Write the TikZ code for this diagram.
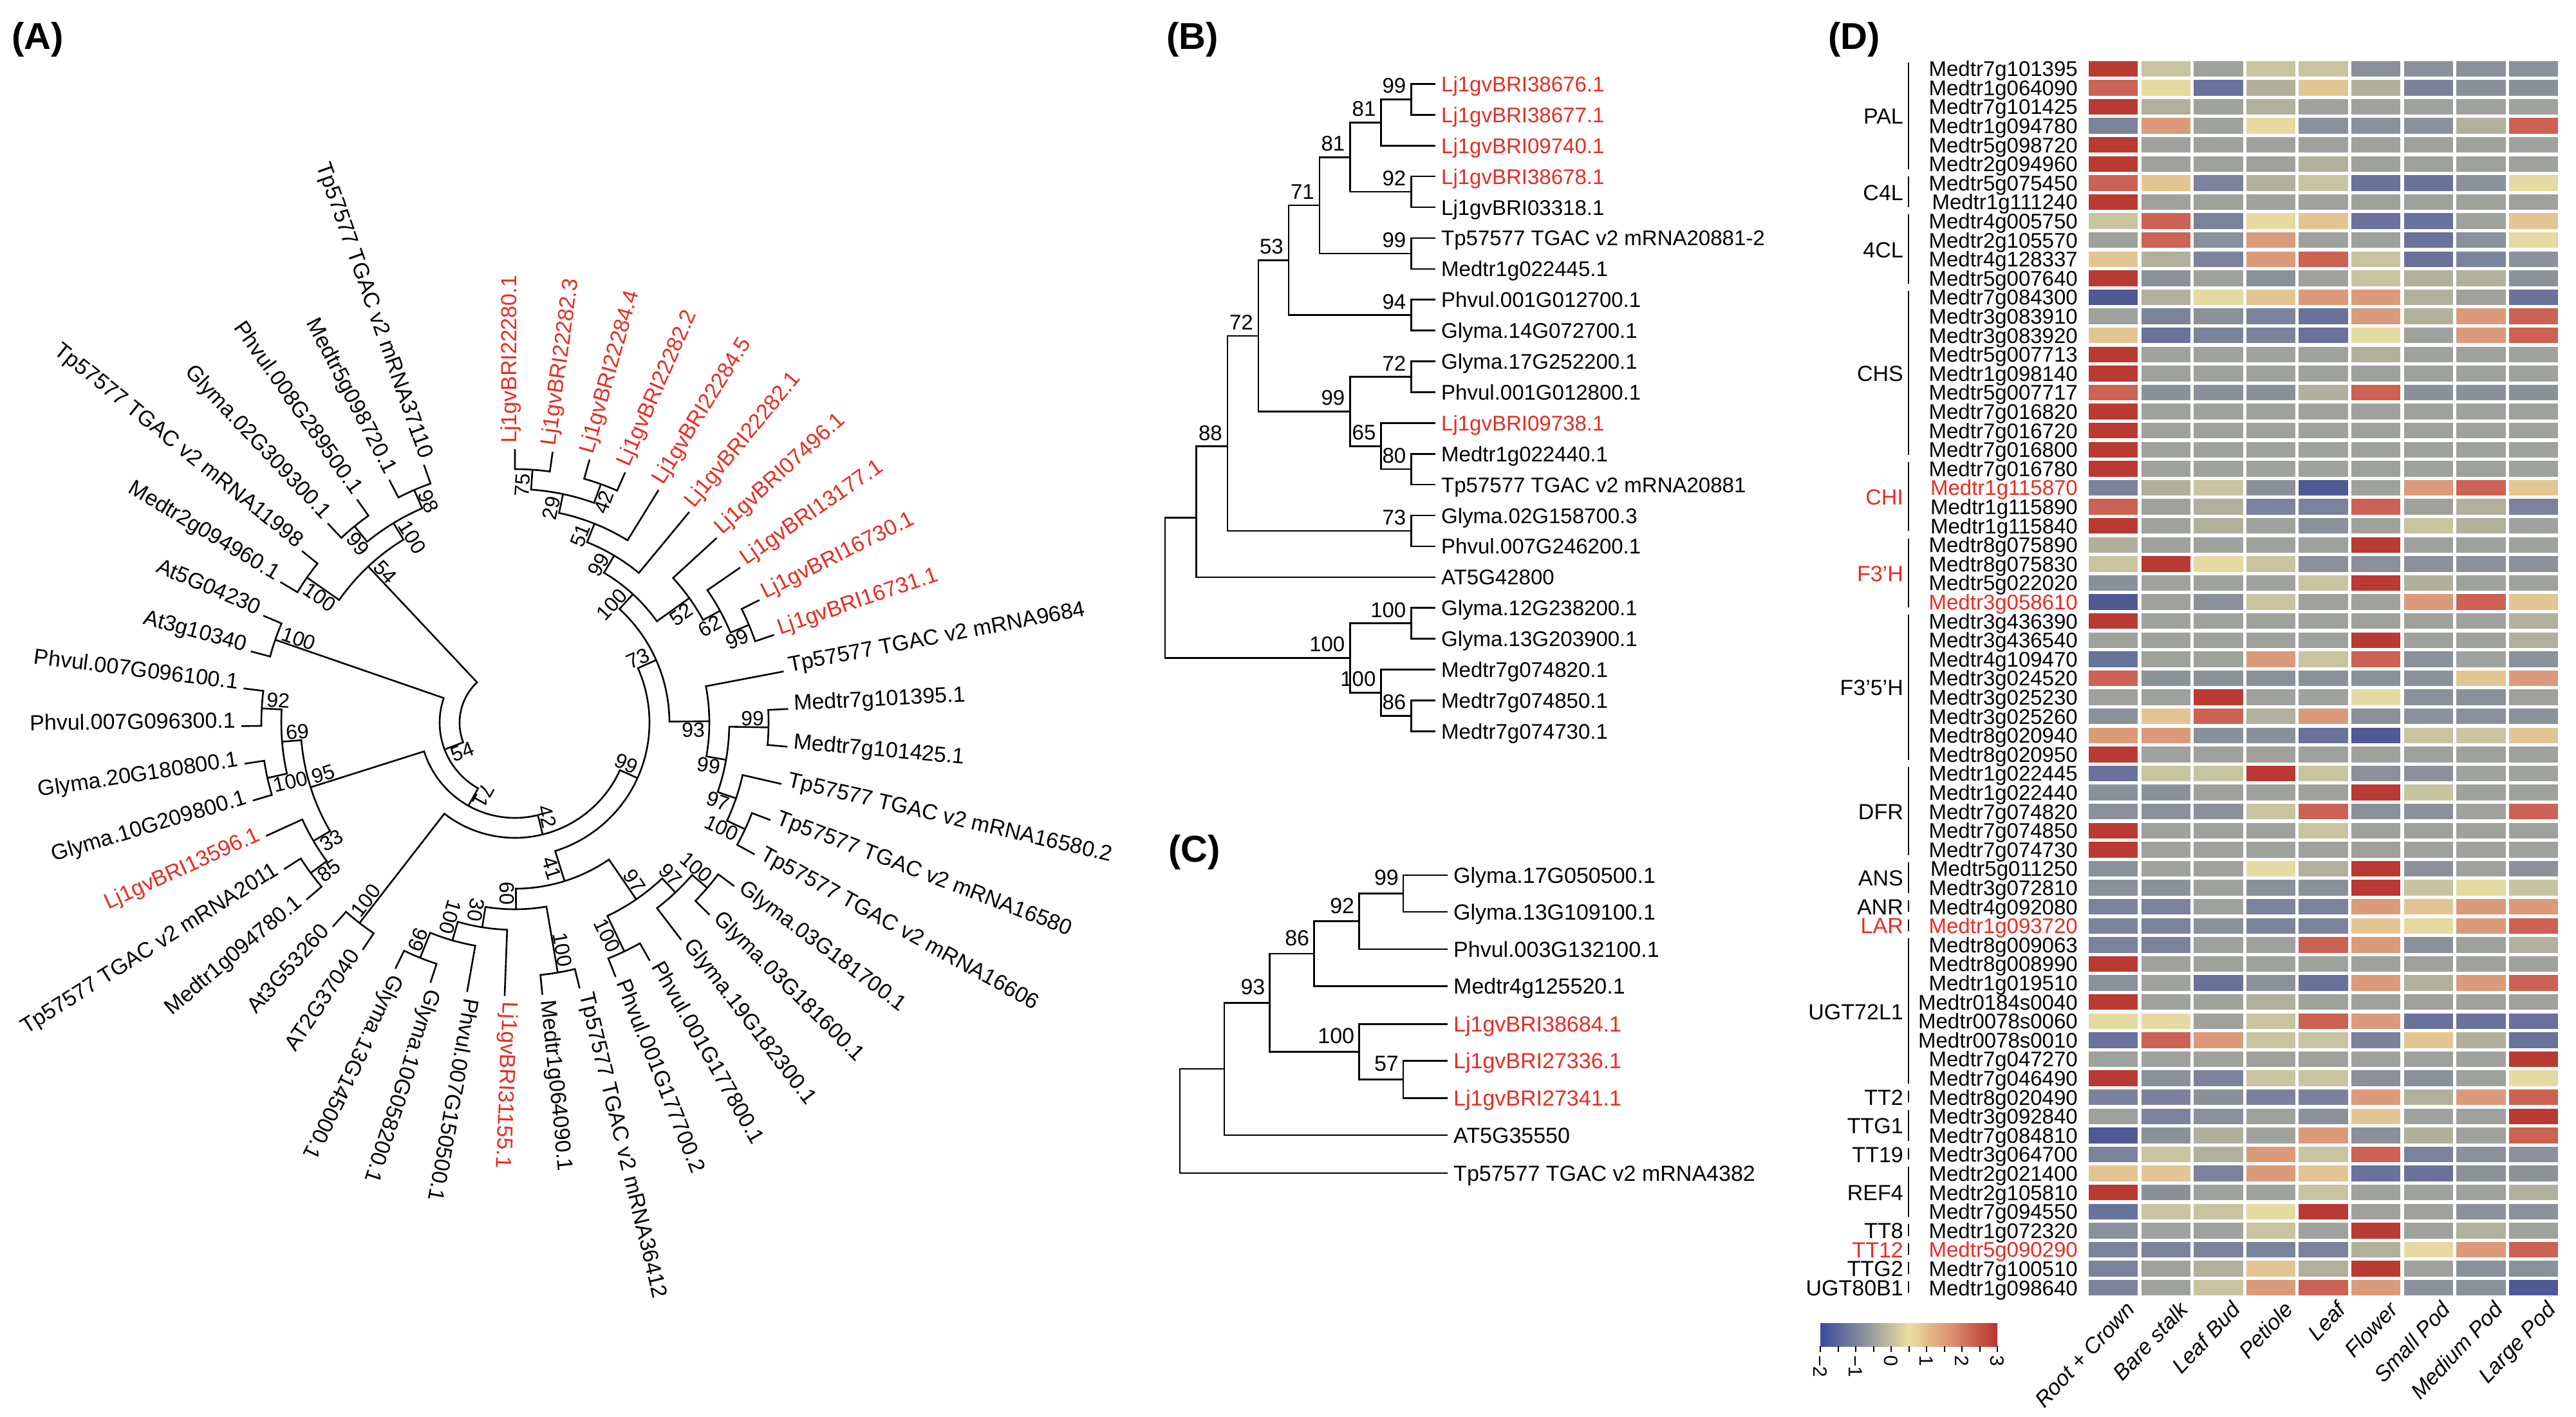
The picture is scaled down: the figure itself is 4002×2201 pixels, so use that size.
\documentclass[tikz,border=0pt]{standalone}
\usepackage{fontspec}
\setmainfont{Liberation Sans}
\definecolor{lj}{RGB}{232,44,36}
\definecolor{hmR}{HTML}{B93A32}
\definecolor{hmr}{HTML}{CB6253}
\definecolor{hmo}{HTML}{DB9A7A}
\definecolor{hmp}{HTML}{E3C594}
\definecolor{hmy}{HTML}{E4DAA2}
\definecolor{hmk}{HTML}{C8C4A0}
\definecolor{hme}{HTML}{B0B09C}
\definecolor{hmg}{HTML}{9FA19D}
\definecolor{hms}{HTML}{8B919B}
\definecolor{hmb}{HTML}{7B839C}
\definecolor{hmB}{HTML}{68729A}
\definecolor{hmD}{HTML}{4F5994}
\definecolor{cb0}{HTML}{3D4B9B}
\definecolor{cb1}{HTML}{8C919C}
\definecolor{cb2}{HTML}{E9DFA0}
\definecolor{cb3}{HTML}{D98C6E}
\definecolor{cb4}{HTML}{B8322C}
\pgfdeclarehorizontalshading{cbar}{100bp}{color(0bp)=(cb0); color(25bp)=(cb0); color(37.5bp)=(cb1); color(50bp)=(cb2); color(62.5bp)=(cb3); color(75bp)=(cb4); color(100bp)=(cb4)}
\tikzset{
  trA/.style={line width=2.6pt, line join=miter},
  trB/.style={line width=2.6pt},
  leafA/.style={inner sep=0pt, font=\fontsize{34}{38}\selectfont},
  bsA/.style={inner sep=2pt, font=\fontsize{32}{36}\selectfont},
  leafB/.style={anchor=base west, inner sep=0pt, font=\fontsize{33}{38}\selectfont},
  bsB/.style={anchor=south east, inner sep=0pt, font=\fontsize{33}{38}\selectfont},
  leafC/.style={anchor=base west, inner sep=0pt, font=\fontsize{34}{38}\selectfont},
  bsC/.style={anchor=south east, inner sep=0pt, font=\fontsize{34}{38}\selectfont},
  rowlab/.style={anchor=base east, inner sep=0pt, font=\fontsize{33}{36}\selectfont},
  grplab/.style={anchor=base east, inner sep=0pt, font=\fontsize{34}{38}\selectfont},
  gbar/.style={line width=2.6pt},
  collab/.style={anchor=north east, rotate=47, inner sep=0pt, font=\fontsize{34}{38}\selectfont\itshape},
  cblab/.style={anchor=west, rotate=-90, inner sep=0pt, font=\fontsize{30}{34}\selectfont},
  cbtick/.style={line width=2pt},
  plab/.style={anchor=north west, inner sep=0pt, font=\fontsize{58}{62}\selectfont\bfseries}
}
% ---- circular tree helpers ----
\newcommand\Aleaf[4]{%
  \pgfmathsetmacro\Ata{90-(#2-1)*7.92}%
  \expandafter\xdef\csname Aa@#1\endcsname{\Ata}%
  \coordinate (#1) at (\Ata:425);%
  \pgfmathtruncatemacro\Atb{\Ata>=-120?1:0}%
  \ifnum\Atb=1
    \node[leafA,text=#4,anchor=mid west,rotate=\Ata] (#1t) at (\Ata:434) {#3};%
  \else
    \pgfmathsetmacro\Atc{\Ata+180}%
    \node[leafA,text=#4,anchor=mid east,rotate=\Atc] (#1t) at (\Ata:434) {#3};%
  \fi}
\newcommand\Anode[4]{%
  \edef\Aca{\csname Aa@#2\endcsname}\edef\Acb{\csname Aa@#3\endcsname}%
  \pgfmathsetmacro\Ata{(\Aca+\Acb)/2}%
  \expandafter\xdef\csname Aa@#1\endcsname{\Ata}%
  \expandafter\xdef\csname Ar@#1\endcsname{#4}%
  \coordinate (#1) at (\Ata:#4);%
  \draw[trA] (#1) arc[start angle=\Ata, end angle=\Aca, radius=#4] -- (#2);%
  \draw[trA] (#1) arc[start angle=\Ata, end angle=\Acb, radius=#4] -- (#3);%
}
\newcommand\Alab[3]{%
  \edef\Ata{\csname Aa@#1\endcsname}\edef\Atr{\csname Ar@#1\endcsname}%
  \pgfmathtruncatemacro\Atb{\Ata>=-120?1:0}%
  \pgfmathsetmacro\Atq{\Atr-5}%
  \ifnum\Atb=1
    \pgfmathsetmacro\Atc{\Ata}%
    \ifnum#2=1 \def\Anc{south east}\else\def\Anc{north east}\fi
  \else
    \pgfmathsetmacro\Atc{\Ata+180}%
    \ifnum#2=1 \def\Anc{north west}\else\def\Anc{south west}\fi
  \fi
  \node[bsA,anchor=\Anc,rotate=\Atc] (#1l) at (\Ata:\Atq) {#3};%
}
\newcommand\Blab[2]{\path (#1) ++(-8,-9) node[bsB] (l#1) {#2};}
\newcommand\Clab[2]{\path (#1) ++(-7,-12) node[bsC] (l#1) {#2};}
\begin{document}
\begin{tikzpicture}[x=1pt,y=-1pt]
\useasboundingbox (0,0) rectangle (4002,2201);
\fill[white] (0,0) rectangle (4002,2201);

\node[plab] (labA) at (18,34) {(A)};
\node[plab] (labB) at (1812,34) {(B)};
\node[plab] (labC) at (1815,1297) {(C)};
\node[plab] (labD) at (2840,34) {(D)};

% ================= Panel A =================
\begin{scope}[shift={(800,1123)},yscale=-1]
\Aleaf{L1}{1}{Lj1gvBRI22280.1}{lj}
\Aleaf{L2}{2}{Lj1gvBRI22282.3}{lj}
\Aleaf{L3}{3}{Lj1gvBRI22284.4}{lj}
\Aleaf{L4}{4}{Lj1gvBRI22282.2}{lj}
\Aleaf{L5}{5}{Lj1gvBRI22284.5}{lj}
\Aleaf{L6}{6}{Lj1gvBRI22282.1}{lj}
\Aleaf{L7}{7}{Lj1gvBRI07496.1}{lj}
\Aleaf{L8}{8}{Lj1gvBRI13177.1}{lj}
\Aleaf{L9}{9}{Lj1gvBRI16730.1}{lj}
\Aleaf{L10}{10}{Lj1gvBRI16731.1}{lj}
\Aleaf{L11}{11}{Tp57577 TGAC v2 mRNA9684}{black}
\Aleaf{L12}{12}{Medtr7g101395.1}{black}
\Aleaf{L13}{13}{Medtr7g101425.1}{black}
\Aleaf{L14}{14}{Tp57577 TGAC v2 mRNA16580.2}{black}
\Aleaf{L15}{15}{Tp57577 TGAC v2 mRNA16580}{black}
\Aleaf{L16}{16}{Tp57577 TGAC v2 mRNA16606}{black}
\Aleaf{L17}{17}{Glyma.03G181700.1}{black}
\Aleaf{L18}{18}{Glyma.03G181600.1}{black}
\Aleaf{L19}{19}{Glyma.19G182300.1}{black}
\Aleaf{L20}{20}{Phvul.001G177800.1}{black}
\Aleaf{L21}{21}{Phvul.001G177700.2}{black}
\Aleaf{L22}{22}{Tp57577 TGAC v2 mRNA36412}{black}
\Aleaf{L23}{23}{Medtr1g064090.1}{black}
\Aleaf{L24}{24}{Lj1gvBRI31155.1}{lj}
\Aleaf{L25}{25}{Phvul.007G150500.1}{black}
\Aleaf{L26}{26}{Glyma.10G058200.1}{black}
\Aleaf{L27}{27}{Glyma.13G145000.1}{black}
\Aleaf{L28}{28}{AT2G37040}{black}
\Aleaf{L29}{29}{At3G53260}{black}
\Aleaf{L30}{30}{Medtr1g094780.1}{black}
\Aleaf{L31}{31}{Tp57577 TGAC v2 mRNA2011}{black}
\Aleaf{L32}{32}{Lj1gvBRI13596.1}{lj}
\Aleaf{L33}{33}{Glyma.10G209800.1}{black}
\Aleaf{L34}{34}{Glyma.20G180800.1}{black}
\Aleaf{L35}{35}{Phvul.007G096300.1}{black}
\Aleaf{L36}{36}{Phvul.007G096100.1}{black}
\Aleaf{L37}{37}{At3g10340}{black}
\Aleaf{L38}{38}{At5G04230}{black}
\Aleaf{L39}{39}{Medtr2g094960.1}{black}
\Aleaf{L40}{40}{Tp57577 TGAC v2 mRNA11998}{black}
\Aleaf{L41}{41}{Glyma.02G309300.1}{black}
\Aleaf{L42}{42}{Phvul.008G289500.1}{black}
\Aleaf{L43}{43}{Medtr5g098720.1}{black}
\Aleaf{L44}{44}{Tp57577 TGAC v2 mRNA37110}{black}

\Anode{n75}{L1}{L2}{394}
\Anode{n42}{L3}{L4}{394}
\Anode{n29}{n75}{n42}{363}
\Anode{n51}{n29}{L5}{333}
\Anode{n99u}{n51}{L6}{302}
\Anode{n99r}{L9}{L10}{394}
\Anode{n62}{L8}{n99r}{363}
\Anode{n52}{L7}{n62}{333}
\Anode{n100u}{n99u}{n52}{271}
\Anode{n99a}{L12}{L13}{394}
\Anode{n100t}{L15}{L16}{394}
\Anode{n97}{L14}{n100t}{363}
\Anode{n99b}{n99a}{n97}{333}
\Anode{n93}{L11}{n99b}{302}
\Anode{n73}{n100u}{n93}{240}
\Anode{n100g}{L17}{L18}{394}
\Anode{n97b}{n100g}{L19}{363}
\Anode{n100p}{L20}{L21}{394}
\Anode{n97a}{n97b}{n100p}{333}
\Anode{n100m}{L22}{L23}{394}
\Anode{n99g}{L26}{L27}{394}
\Anode{n100v}{L25}{n99g}{352}
\Anode{n30}{L24}{n100v}{322}
\Anode{n60}{n100m}{n30}{290}
\Anode{n41}{n97a}{n60}{258}
\Anode{nT}{n73}{n41}{209}
\Anode{n100A}{L28}{L29}{394}
\Anode{nS}{nT}{n100A}{179}
\Anode{n85}{L30}{L31}{394}
\Anode{n33}{n85}{L32}{363}
\Anode{n100G}{L33}{L34}{394}
\Anode{n92}{L35}{L36}{394}
\Anode{n69}{n100G}{n92}{363}
\Anode{n95}{n33}{n69}{333}
\Anode{nR}{nS}{n95}{148}
\Anode{n100At}{L37}{L38}{394}
\Anode{nQ}{nR}{n100At}{117}
\Anode{n100b}{L39}{L40}{394}
\Anode{n99p}{L41}{L42}{394}
\Anode{n98}{L43}{L44}{394}
\Anode{n100c}{n99p}{n98}{363}
\Anode{n54U}{n100b}{n100c}{333}
\Anode{nP}{nQ}{n54U}{86}

\Alab{n75}{1}{75}
\Alab{n42}{0}{42}
\Alab{n29}{1}{29}
\Alab{n51}{1}{51}
\Alab{n99u}{1}{99}
\Alab{n52}{0}{52}
\Alab{n62}{0}{62}
\Alab{n99r}{0}{99}
\Alab{n100u}{1}{100}
\Alab{n93}{0}{93}
\Alab{n99a}{1}{99}
\Alab{n99b}{0}{99}
\Alab{n97}{0}{97}
\Alab{n100t}{0}{100}
\Alab{n73}{1}{73}
\Alab{nT}{1}{99}
\Alab{n41}{0}{41}
\Alab{n97a}{1}{97}
\Alab{n97b}{1}{97}
\Alab{n100g}{1}{100}
\Alab{n100p}{0}{100}
\Alab{n60}{0}{60}
\Alab{n100m}{1}{100}
\Alab{n30}{0}{30}
\Alab{n100v}{0}{100}
\Alab{n99g}{0}{99}
\Alab{nS}{1}{42}
\Alab{n100A}{0}{100}
\Alab{nR}{1}{71}
\Alab{n95}{0}{95}
\Alab{n33}{1}{33}
\Alab{n85}{1}{85}
\Alab{n69}{0}{69}
\Alab{n100G}{1}{100}
\Alab{n92}{0}{92}
\Alab{nQ}{1}{54}
\Alab{n100At}{0}{100}
\Alab{n54U}{0}{54}
\Alab{n100b}{1}{100}
\Alab{n100c}{0}{100}
\Alab{n99p}{1}{99}
\Alab{n98}{0}{98}
\end{scope}

% ================= Panel B =================
\foreach \t/\c [count=\i] in {Lj1gvBRI38676.1/lj, Lj1gvBRI38677.1/lj, Lj1gvBRI09740.1/lj, Lj1gvBRI38678.1/lj, Lj1gvBRI03318.1/black, Tp57577 TGAC v2 mRNA20881-2/black, Medtr1g022445.1/black, Phvul.001G012700.1/black, Glyma.14G072700.1/black, Glyma.17G252200.1/black, Phvul.001G012800.1/black, Lj1gvBRI09738.1/lj, Medtr1g022440.1/black, Tp57577 TGAC v2 mRNA20881/black, Glyma.02G158700.3/black, Phvul.007G246200.1/black, AT5G42800/black, Glyma.12G238200.1/black, Glyma.13G203900.1/black, Medtr7g074820.1/black, Medtr7g074850.1/black, Medtr7g074730.1/black}{
  \coordinate (b\i) at (2230,{130.4+47.9*(\i-1)});
  \node[leafB,text=\c] (bt\i) at (2239,{142.4+47.9*(\i-1)}) {\t};
}
\coordinate (B99a) at (2192.5,154.35);
\coordinate (B81b) at (2145.6,190.3);
\coordinate (B92) at (2192.5,298.05);
\coordinate (B81a) at (2097.5,244.2);
\coordinate (B99c) at (2192.5,393.85);
\coordinate (B71) at (2050,319);
\coordinate (B94) at (2192.5,489.65);
\coordinate (B53) at (2001.9,404.3);
\coordinate (B72b) at (2192.5,585.45);
\coordinate (B80) at (2192.5,729.15);
\coordinate (B65) at (2145.6,693.2);
\coordinate (B99b) at (2097.5,639.3);
\coordinate (B72) at (1955,521.8);
\coordinate (B73) at (2192.5,824.95);
\coordinate (B88) at (1906.9,693.7);
\coordinate (Bn1) at (1858.75,804.6);
\coordinate (B100b) at (2192.5,968.65);
\coordinate (B86) at (2192.5,1112.35);
\coordinate (B100c) at (2145.6,1076.4);
\coordinate (B100a) at (2097.5,1022.5);
\coordinate (Broot) at (1810,913.5);
\foreach \p/\q in {B99a/b1, B99a/b2, B81b/B99a, B81b/b3, B92/b4, B92/b5, B81a/B81b, B81a/B92, B99c/b6, B99c/b7, B71/B81a, B71/B99c, B94/b8, B94/b9, B53/B71, B53/B94, B72b/b10, B72b/b11, B80/b13, B80/b14, B65/b12, B65/B80, B99b/B72b, B99b/B65, B72/B53, B72/B99b, B73/b15, B73/b16, B88/B72, B88/B73, Bn1/B88, Bn1/b17, B100b/b18, B100b/b19, B86/b21, B86/b22, B100c/b20, B100c/B86, B100a/B100b, B100a/B100c, Broot/Bn1, Broot/B100a}
  \draw[trB] (\p) |- (\q);
\Blab{B88}{88}
\Blab{B72}{72}
\Blab{B53}{53}
\Blab{B71}{71}
\Blab{B81a}{81}
\Blab{B81b}{81}
\Blab{B99a}{99}
\Blab{B92}{92}
\Blab{B99c}{99}
\Blab{B94}{94}
\Blab{B72b}{72}
\Blab{B99b}{99}
\Blab{B65}{65}
\Blab{B80}{80}
\Blab{B73}{73}
\Blab{B100a}{100}
\Blab{B100b}{100}
\Blab{B100c}{100}
\Blab{B86}{86}

% ================= Panel C =================
\foreach \t/\c/\y [count=\i] in {Glyma.17G050500.1/black/1360, Glyma.13G109100.1/black/1416.8, Phvul.003G132100.1/black/1474.9, Medtr4g125520.1/black/1532.5, Lj1gvBRI38684.1/lj/1591.5, Lj1gvBRI27336.1/lj/1648.3, Lj1gvBRI27341.1/lj/1706.4, AT5G35550/black/1764, Tp57577 TGAC v2 mRNA4382/black/1822.9}{
  \coordinate (c\i) at (2249,\y);
  \node[leafC,text=\c] (ct\i) at (2258,{\y+12.2}) {\t};
}
\coordinate (Ca) at (2180,1388.4);
\coordinate (Cb) at (2111.25,1431.6);
\coordinate (Cc) at (2041.25,1482);
\coordinate (Cd) at (2180,1677.3);
\coordinate (Ce) at (2111.25,1634.4);
\coordinate (Cf) at (1972.5,1558.2);
\coordinate (Cg) at (1901.9,1661);
\coordinate (Croot) at (1833.1,1742.5);
\foreach \p/\q in {Ca/c1, Ca/c2, Cb/Ca, Cb/c3, Cc/Cb, Cc/c4, Cd/c6, Cd/c7, Ce/c5, Ce/Cd, Cf/Cc, Cf/Ce, Cg/Cf, Cg/c8, Croot/Cg, Croot/c9}
  \draw[trB] (\p) |- (\q);
\Clab{Ca}{99}
\Clab{Cb}{92}
\Clab{Cc}{86}
\Clab{Cd}{57}
\Clab{Ce}{100}
\Clab{Cf}{93}

% ================= Panel D =================
\def\hmrows{{R,k,g,k,k,s,s,s,s},{r,y,B,e,p,e,b,s,s},{R,e,g,e,g,g,g,g,g},{b,o,g,y,s,s,s,e,r},{R,g,g,g,g,g,g,g,g},{R,g,g,g,e,g,g,g,g},{r,p,b,e,k,B,B,s,y},{R,g,g,g,g,g,g,g,g},{k,r,b,y,p,B,B,g,p},{g,r,s,o,g,g,B,s,y},{p,e,b,o,r,k,B,b,s},{R,s,g,s,g,k,e,e,s},{D,e,y,p,o,o,e,g,B},{g,b,s,b,B,o,e,o,r},{p,B,b,b,B,y,g,o,r},{R,g,g,g,g,e,g,g,g},{R,g,g,g,g,g,g,g,g},{r,s,s,s,e,r,s,s,s},{R,g,g,g,g,g,g,g,g},{R,g,g,g,g,g,g,g,g},{R,g,g,g,g,g,g,g,g},{R,g,g,g,g,g,g,g,g},{b,e,k,s,D,g,o,r,p},{r,g,e,b,b,r,g,e,b},{R,g,e,g,s,g,k,e,g},{e,g,g,g,g,R,g,g,g},{k,R,y,k,s,s,s,s,s},{s,g,g,g,k,R,e,g,g},{D,g,s,k,g,g,o,r,p},{R,g,g,g,g,g,g,g,e},{g,g,g,g,g,R,g,g,e},{B,g,g,o,k,r,s,g,s},{r,s,s,s,s,s,s,p,o},{g,g,R,g,g,y,s,s,g},{s,p,r,e,o,s,s,s,s},{o,o,s,s,B,D,k,k,p},{R,g,g,g,g,g,g,g,g},{B,k,k,R,k,s,s,g,g},{s,s,g,g,g,R,k,g,g},{s,s,s,k,r,s,s,g,r},{R,g,g,g,k,g,g,g,g},{R,g,g,g,g,g,g,g,g},{s,g,g,y,e,R,s,g,s},{s,s,g,s,s,R,k,y,k},{b,b,g,b,b,o,p,o,o},{b,b,s,b,b,p,y,o,r},{b,b,g,g,r,o,s,g,e},{R,g,g,g,g,g,g,g,g},{s,g,B,s,B,o,e,o,r},{R,g,g,e,g,g,g,g,g},{y,y,g,k,r,o,B,B,B},{B,r,o,k,k,b,p,e,B},{g,g,g,g,g,g,g,g,R},{R,s,b,k,k,s,s,g,y},{b,b,s,b,b,o,e,o,r},{g,b,s,g,s,p,g,g,R},{D,s,e,g,o,s,e,g,r},{b,k,e,o,k,r,b,s,s},{p,p,b,o,p,B,B,s,s},{R,s,g,g,k,g,g,g,e},{B,k,k,y,R,g,g,s,s},{s,g,g,k,g,R,g,e,g},{b,b,b,b,b,e,y,o,r},{b,g,e,p,e,R,g,s,s},{b,g,k,o,r,o,s,s,D}}
\foreach \cells [count=\i] in \hmrows {
  \foreach \cc [count=\j] in \cells {
    \fill[fill=hm\cc] ({3245+(\j-1)*81.6},{94.6+(\i-1)*29.6}) rectangle ++(76.4,24.4);
  }
}
\foreach \t/\c [count=\i] in {Medtr7g101395/black, Medtr1g064090/black, Medtr7g101425/black, Medtr1g094780/black, Medtr5g098720/black, Medtr2g094960/black, Medtr5g075450/black, Medtr1g111240/black, Medtr4g005750/black, Medtr2g105570/black, Medtr4g128337/black, Medtr5g007640/black, Medtr7g084300/black, Medtr3g083910/black, Medtr3g083920/black, Medtr5g007713/black, Medtr1g098140/black, Medtr5g007717/black, Medtr7g016820/black, Medtr7g016720/black, Medtr7g016800/black, Medtr7g016780/black, Medtr1g115870/lj, Medtr1g115890/black, Medtr1g115840/black, Medtr8g075890/black, Medtr8g075830/black, Medtr5g022020/black, Medtr3g058610/lj, Medtr3g436390/black, Medtr3g436540/black, Medtr4g109470/black, Medtr3g024520/black, Medtr3g025230/black, Medtr3g025260/black, Medtr8g020940/black, Medtr8g020950/black, Medtr1g022445/black, Medtr1g022440/black, Medtr7g074820/black, Medtr7g074850/black, Medtr7g074730/black, Medtr5g011250/black, Medtr3g072810/black, Medtr4g092080/black, Medtr1g093720/lj, Medtr8g009063/black, Medtr8g008990/black, Medtr1g019510/black, Medtr0184s0040/black, Medtr0078s0060/black, Medtr0078s0010/black, Medtr7g047270/black, Medtr7g046490/black, Medtr8g020490/black, Medtr3g092840/black, Medtr7g084810/black, Medtr3g064700/black, Medtr2g021400/black, Medtr2g105810/black, Medtr7g094550/black, Medtr1g072320/black, Medtr5g090290/lj, Medtr7g100510/black, Medtr1g098640/black}
  \node[rowlab,text=\c] (rl\i) at (3228,{94.6+(\i-1)*29.6+24}) {\t};
\foreach \g/\a/\b/\c [count=\k] in {PAL/1/6/black, C4L/7/8/black, 4CL/9/12/black, CHS/13/21/black, CHI/22/25/lj, F3’H/26/29/lj, F3’5’H/30/37/black, DFR/38/42/black, ANS/43/44/black, ANR/45/45/black, LAR/46/46/lj, UGT72L1/47/54/black, TT2/55/55/black, TTG1/56/57/black, TT19/58/58/black, REF4/59/61/black, TT8/62/62/black, TT12/63/63/lj, TTG2/64/64/black, UGT80B1/65/65/black}{
  \draw[gbar] (2965,{94.6+(\a-1)*29.6+2}) -- (2965,{94.6+(\b-1)*29.6+20.4});
  \node[grplab,text=\c] (g\k) at (2957,{94.6+(\a+\b-2)*29.6/2+24.2}) {\g};
}
\foreach \t [count=\j] in {Root + Crown, Bare stalk, Leaf Bud, Petiole, Leaf, Flower, Small Pod, Medium Pod, Large Pod}
  \node[collab] (cl\j) at ({3283.2+(\j-1)*81.6+18},2020) {\t};
\shade[shading=cbar] (2828,2056) rectangle (3103,2092);
\foreach \v in {0,...,10}
  \draw[cbtick] ({2828+\v*27.5},2092) -- ++(0,9);
\foreach \t [count=\k from 0] in {−2,−1,0,1,2,3}
  \node[cblab] (cbl\k) at ({2828+\k*55},2106) {\t};
\end{tikzpicture}
\end{document}
